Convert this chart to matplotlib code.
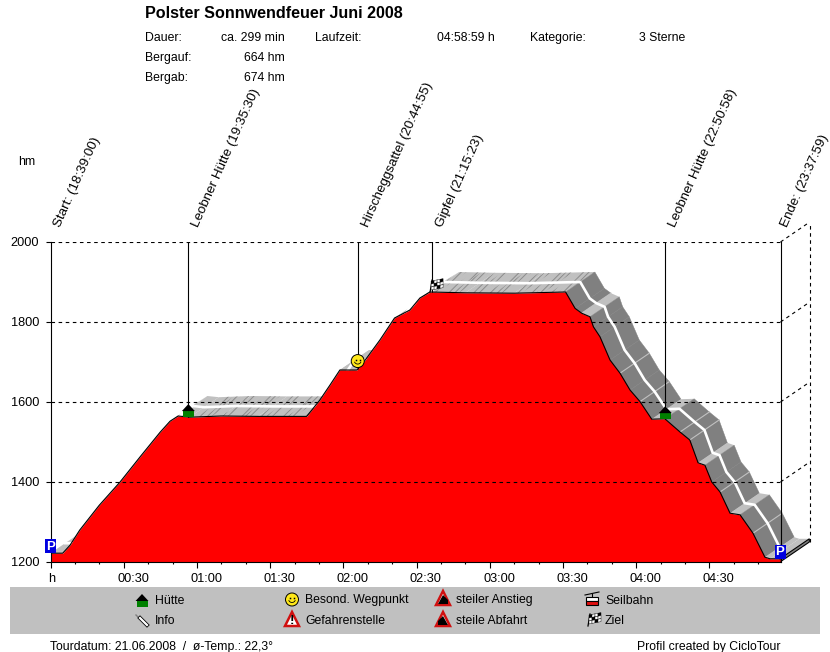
import numpy as np
import matplotlib
matplotlib.use('Agg')
import matplotlib.pyplot as plt
from matplotlib.patches import Polygon, Rectangle, Circle
from matplotlib.transforms import ScaledTranslation

plt.rcParams['font.family'] = ['Liberation Sans', 'DejaVu Sans']
plt.rcParams['hatch.linewidth'] = 0.7

# profile: minutes since start, elevation in hm
minutes = [0, 5, 8, 12, 20, 28.5, 37, 45, 49, 52.3, 57, 70, 85, 105, 110.4, 114.5, 118.6, 125.6,
           129, 135, 141, 147.3, 151.4, 155.5, 170, 190, 211.1, 215, 217.7, 221.1, 222.5, 225.2, 229.3,
           233.4, 237.5, 241.6, 246.4, 251.8, 258, 262, 265.4, 268.2, 271, 274.4, 278.5, 282.6,
           287.9, 292.8, 294.9, 299]
elevation = [1222, 1222, 1242, 1280, 1342, 1400, 1465, 1525, 1552, 1565, 1562, 1565, 1564, 1564, 1605, 1642, 1680, 1680,
             1705, 1755, 1810, 1830, 1860, 1875, 1873, 1872, 1875, 1834, 1822, 1813, 1788, 1763, 1705,
             1672, 1630, 1601, 1557, 1558, 1525, 1505, 1448, 1442, 1400, 1375, 1322, 1318,
             1272, 1212, 1208, 1208]
seam_minutes = [217.7, 233.4, 241.6, 258, 262, 274.4, 287.9]

station_names = ['Start:', 'Leobner Hütte', 'Hirscheggsattel', 'Gipfel', 'Leobner Hütte', 'Ende:']
station_clock = ['18:39:00', '19:35:30', '20:44:55', '21:15:23', '22:50:58', '23:37:59']

y_ticks = [1200, 1400, 1600, 1800, 2000]
x_ticks = [0, 30, 60, 90, 120, 150, 180, 210, 240, 270]
x_labels = ['h', '00:30', '01:00', '01:30', '02:00', '02:30', '03:00', '03:30', '04:00', '04:30']

DEPTH_T = 12
DEPTH_H = 50
W, H = 830, 652
SMALL = 8.8


def clock_to_min(s):
    hh, mm, ss = s.split(':')
    return int(hh) * 60 + int(mm) + int(ss) / 60


def hut(a, x, y):
    # x, y = bottom centre of icon, pixels
    a.add_patch(Rectangle((x - 5.5, y - 6), 11, 6, fc='#008000', ec='none', zorder=10))
    a.add_patch(Polygon([(x - 6.5, y - 6), (x + 6.5, y - 6), (x, y - 13)], fc='black', ec='none', zorder=10))


def smiley(a, x, y):
    a.add_patch(Circle((x, y), 6.5, fc='#ffe81a', ec='black', lw=0.7, zorder=10))
    a.plot([x - 2, x + 2], [y - 1.5, y - 1.5], ls='none', marker='s', ms=1.1, mew=0, color='black', zorder=11)
    t = np.linspace(0.15, 0.85, 12) * np.pi
    a.plot(x + 3.5 * np.cos(t), y + 3.5 * np.sin(t) - 0.5, color='black', lw=0.6, zorder=11)


def flag(a, x, y):
    # checker flag with pole, x, y = bottom of pole
    a.plot([x - 2, x], [y, y - 12], color='black', lw=0.9, zorder=10)
    for i in range(4):
        for j in range(3):
            c = 'black' if (i + 2 * j) % 3 == 0 else 'white'
            a.add_patch(Polygon([(x - 1 + i * 3, y - 11 + j * 3 - i * 0.6), (x + 2 + i * 3, y - 11 + j * 3 - (i + 1) * 0.6),
                                 (x + 2 + i * 3, y - 8 + j * 3 - (i + 1) * 0.6), (x - 1 + i * 3, y - 8 + j * 3 - i * 0.6)],
                                fc=c, ec='black', lw=0.3, zorder=10))


def parking(a, x, y):
    a.add_patch(Rectangle((x - 5.5, y - 14), 11, 14, fc='#0000e0', ec='none', zorder=10))
    a.text(x, y - 6.5, 'P', color='white', fontsize=9.5, fontweight='bold', ha='center', va='center', zorder=11)


def warn_triangle(a, x, y, steep=None):
    a.add_patch(Polygon([(x - 7, y + 6), (x + 7, y + 6), (x, y - 8)], fc='white', ec='#d01010', lw=1.8, zorder=10))
    if steep == 'up':
        a.add_patch(Polygon([(x - 5, y + 5), (x + 5, y + 5), (x + 5, y + 1), (x, y - 4)], fc='black', ec='none', zorder=11))
    elif steep == 'down':
        a.add_patch(Polygon([(x - 5, y + 5), (x + 5, y + 5), (x, y - 4), (x - 5, y + 1)], fc='black', ec='none', zorder=11))
    else:
        a.text(x, y + 0.5, '!', color='black', fontsize=9.5, fontweight='bold', ha='center', va='center', zorder=11)


def pin(a, x, y):
    a.plot([x - 6, x - 2], [y - 5, y - 1], color='#808080', lw=1.0, zorder=10)
    a.plot([x - 2, x + 5], [y - 2, y + 5], color='black', lw=2.8, zorder=10)
    a.plot([x - 2, x + 5], [y - 2, y + 5], color='white', lw=1.6, zorder=11)


def cable_car(a, x, y):
    a.plot([x - 7, x + 7], [y - 4, y - 7], color='black', lw=0.8, zorder=10)
    a.plot([x, x], [y - 5.5, y - 2], color='black', lw=0.8, zorder=10)
    a.add_patch(Rectangle((x - 6, y - 2), 12, 4, fc='white', ec='black', lw=0.8, zorder=10))
    a.add_patch(Rectangle((x - 6, y + 2), 12, 4, fc='#e01010', ec='black', lw=0.8, zorder=10))


fig = plt.figure(figsize=(W / 100, H / 100), dpi=100, facecolor='white')
ax = fig.add_axes([50.5 / W, (H - 562) / H, 730 / W, 320 / H])
ax.set_xlim(0, 730 / 2.44)
ax.set_ylim(1200, 2000)
ax.patch.set_visible(False)

# road band behind the profile, one quad per segment
hatches = ['//////', None, '////', '///////', None, '///']
n_hatch = 0
for i in range(len(minutes) - 1):
    t0, t1 = minutes[i], minutes[i + 1]
    h0, h1 = elevation[i], elevation[i + 1]
    slope = (h1 - h0) / (t1 - t0)
    quad = [(t0, h0), (t1, h1), (t1 + DEPTH_T, h1 + DEPTH_H), (t0 + DEPTH_T, h0 + DEPTH_H)]
    if slope < -3:
        ax.add_patch(Polygon(quad, fc='#808080', ec='#808080', lw=0.3, zorder=1, clip_on=False))
    else:
        ax.add_patch(Polygon(quad, fc='#c0c0c0', ec='none', lw=0, zorder=1, clip_on=False))
        if abs(slope) < 3 and t1 - t0 > 8:
            # streaks come in clusters, split the flat piece
            cuts = np.arange(t0, t1, 3.0)
            for c in cuts:
                n_hatch += 1
                htch = hatches[n_hatch % len(hatches)]
                if htch is None:
                    continue
                e = min(c + 3.0, t1)
                ha0, ha1 = np.interp([c, e], [t0, t1], [h0, h1])
                ax.add_patch(Polygon([(c, ha0), (e, ha1), (e + DEPTH_T, ha1 + DEPTH_H), (c + DEPTH_T, ha0 + DEPTH_H)],
                                     fc='none', ec='#8c8c8c', lw=0, hatch=htch, zorder=1.2, clip_on=False))

t_arr = np.array(minutes)
h_arr = np.array(elevation)
# seams between the road pieces on the way down
for s in seam_minutes:
    h_s = np.interp(s, minutes, elevation)
    ax.plot([s, s + DEPTH_T], [h_s, h_s + DEPTH_H], color='#c0c0c0', lw=0.8, zorder=1.5, clip_on=False)
ax.plot(t_arr[:-1] + DEPTH_T / 2, h_arr[:-1] + DEPTH_H / 2, color='white', lw=1.9, zorder=1.6, clip_on=False)

# end cap of the road
ax.add_patch(Polygon([(minutes[-1], 1200), (minutes[-1] + DEPTH_T, 1200 + DEPTH_H),
                      (minutes[-1] + DEPTH_T, elevation[-1] + DEPTH_H), (minutes[-1], elevation[-1])],
                     fc='#808080', ec='black', lw=0.8, zorder=2, clip_on=False))

ax.fill_between(minutes, elevation, 1200, color='#ff0000', lw=0, zorder=3)
ax.plot(minutes, elevation, color='black', lw=0.8, zorder=4)

# grid and back wall
dash = (0, (3.2, 3.2))
x_end = ax.get_xlim()[1]
for v in y_ticks[1:]:
    ax.plot([0, x_end], [v, v], color='black', lw=0.8, ls=dash, zorder=4.5)
    ax.plot([x_end, x_end + DEPTH_T], [v, v + DEPTH_H], color='black', lw=0.8, ls=dash, zorder=2, clip_on=False)
ax.plot([x_end + DEPTH_T] * 2, [1200 + DEPTH_H, 2000 + DEPTH_H], color='black', lw=0.8, ls=dash, zorder=2, clip_on=False)

ax.spines['top'].set_visible(False)
for side in ['left', 'right', 'bottom']:
    ax.spines[side].set_linewidth(0.8)
    ax.spines[side].set_zorder(5)

ax.set_yticks(y_ticks)
ax.tick_params(axis='y', length=3.6, width=0.8, pad=4.5, labelsize=9.2)
ax.set_xticks(x_ticks)
ax.set_xticks(np.arange(0, 300, 10), minor=True)
ax.set_xticklabels(x_labels, ha='left')
ax.tick_params(axis='x', length=4, width=0.8, pad=4, labelsize=9.2)
ax.tick_params(axis='x', which='minor', length=1.5, width=0.8)
for lab, txt in zip(ax.get_xticklabels(), x_labels):
    shift = -2.5 if txt == 'h' else -6.5
    lab.set_transform(lab.get_transform() + ScaledTranslation(shift / 100, 0, fig.dpi_scale_trans))

# overlay in pixel coordinates for icons and page text
ov = fig.add_axes([0, 0, 1, 1])
ov.set_xlim(0, W)
ov.set_ylim(H, 0)
ov.axis('off')
ov.patch.set_visible(False)


def to_px(t, h):
    x, y = ax.transData.transform((t, h))
    return x, H - y


# station lines, labels, icons
start = clock_to_min(station_clock[0])
t_st = [clock_to_min(c) - start for c in station_clock]
e_st = [np.interp(t, minutes, elevation) for t in t_st]
for k, (name, clock) in enumerate(zip(station_names, station_clock)):
    x0, y0 = to_px(t_st[k], 2000)
    if 0 < k < len(t_st) - 1:
        ax.plot([t_st[k], t_st[k]], [e_st[k], 2000], color='black', lw=0.8, zorder=2.5)
    # last label sits right at the page edge
    lx = x0 + 2 if k < len(t_st) - 1 else x0 - 0.5
    ov.text(lx, 224.5, f'{name} ({clock})', rotation=66, rotation_mode='anchor', ha='left', va='top',
            fontsize=9.6, color='black')

parking(ov, *to_px(t_st[0], e_st[0]))
hut(ov, *to_px(t_st[1], e_st[1]))
sx, sy = to_px(t_st[2], e_st[2])
smiley(ov, sx, sy - 8)
flag(ov, *to_px(t_st[3], e_st[3]))
hut(ov, *to_px(t_st[4], e_st[4]))
parking(ov, *to_px(t_st[5], e_st[5]))

# header
ov.text(145, 13.5, 'Polster Sonnwendfeuer Juni 2008', fontsize=11.6, fontweight='bold', va='center')
info = [(145, 37, 'Dauer:', 'left'), (285, 37, 'ca. 299 min', 'right'), (315, 37, 'Laufzeit:', 'left'),
        (495, 37, '04:58:59 h', 'right'), (530, 37, 'Kategorie:', 'left'), (639, 37, '3 Sterne', 'left'),
        (145, 57, 'Bergauf:', 'left'), (285, 57, '664 hm', 'right'),
        (145, 77, 'Bergab:', 'left'), (285, 77, '674 hm', 'right')]
for x, y, s, ha in info:
    ov.text(x, y + 1, s, fontsize=SMALL, ha=ha, va='center')
ov.text(18, 162, 'hm', fontsize=SMALL, va='center')

# legend strip
ov.add_patch(Rectangle((10, 587), 810, 47, fc='#c0c0c0', ec='none', zorder=1))
legend_rows = [(155, 599.5, 'Hütte'), (155, 619.5, 'Info'), (305, 599.5, 'Besond. Wegpunkt'),
               (305, 619.5, 'Gefahrenstelle'), (456, 599.5, 'steiler Anstieg'), (456, 619.5, 'steile Abfahrt'),
               (605, 599.5, 'Seilbahn'), (605, 619.5, 'Ziel')]
for x, y, s in legend_rows:
    ov.text(x, y + 1, s, fontsize=SMALL, va='center', zorder=12)
hut(ov, 142, 607)
pin(ov, 142, 620)
smiley(ov, 292, 599.5)
warn_triangle(ov, 292, 620)
warn_triangle(ov, 443, 599, 'up')
warn_triangle(ov, 443, 620, 'down')
cable_car(ov, 592, 599)
flag(ov, 590, 626)

ov.text(50, 647, 'Tourdatum: 21.06.2008  /  ø-Temp.: 22,3°', fontsize=SMALL, va='center')
ov.text(637, 647, 'Profil created by CicloTour', fontsize=SMALL, va='center')

fig.savefig('out.png', dpi=100)
